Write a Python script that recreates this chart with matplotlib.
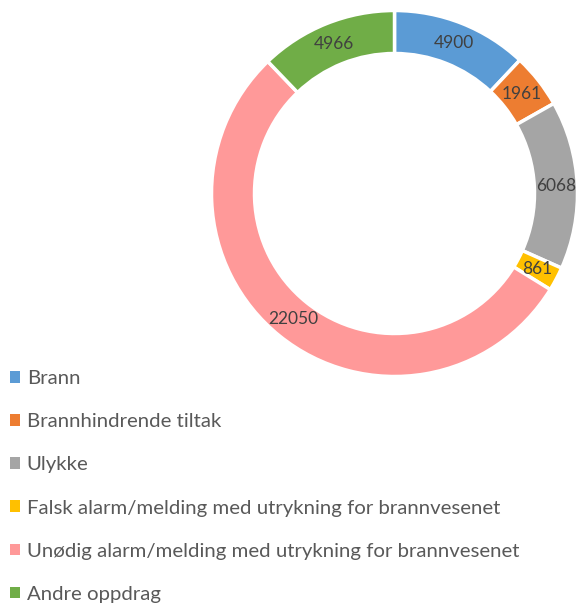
import matplotlib
matplotlib.use("Agg")
import matplotlib.pyplot as plt
import numpy as np

# data
categories = ["Brann", "Brannhindrende tiltak", "Ulykke",
              "Falsk alarm/melding med utrykning for brannvesenet",
              "Unødig alarm/melding med utrykning for brannvesenet",
              "Andre oppdrag"]
values = [4900, 1961, 6068, 861, 22050, 4966]
colors = ["#5B9BD5", "#ED7D31", "#A5A5A5", "#FFC000", "#FF9999", "#70AD47"]

plt.rcParams['font.family'] = ['Lato', 'DejaVu Sans']

W, H = 579, 605
fig = plt.figure(figsize=(W / 100, H / 100), dpi=100)

# donut axes, centre ~ (394, 193) px from top-left, radius ~183 px
cx, cy, half = 394.5, 193.5, 190
ax = fig.add_axes([(cx - half) / W, (H - cy - half) / H, 2 * half / W, 2 * half / H])
ring = 0.235
wedges, _ = ax.pie(values, colors=colors, startangle=90, counterclock=False,
                   radius=1, wedgeprops=dict(width=ring, edgecolor="white", linewidth=2.5))
ax.set_xlim(-half / 183, half / 183)
ax.set_ylim(-half / 183, half / 183)
ax.set_aspect("equal")
ax.axis("off")

r_lab = 1 - ring / 2
for w, v in zip(wedges, values):
    th = np.deg2rad((w.theta1 + w.theta2) / 2)
    ax.text(r_lab * np.cos(th), r_lab * np.sin(th), str(v), ha="center", va="center",
            fontsize=12.5, color="#404040")

leg = fig.legend(wedges, categories, loc="upper left",
                 bbox_to_anchor=(4 / W, 1 - 364 / H), frameon=False,
                 fontsize=14.7, handlelength=0.5, handleheight=0.5, handletextpad=0.32,
                 labelspacing=1.28, borderaxespad=0, borderpad=0.3)
for t in leg.get_texts():
    t.set_color("#595959")
for hnd in leg.legend_handles:
    hnd.set_linewidth(0)

fig.savefig("out.png", dpi=100)
